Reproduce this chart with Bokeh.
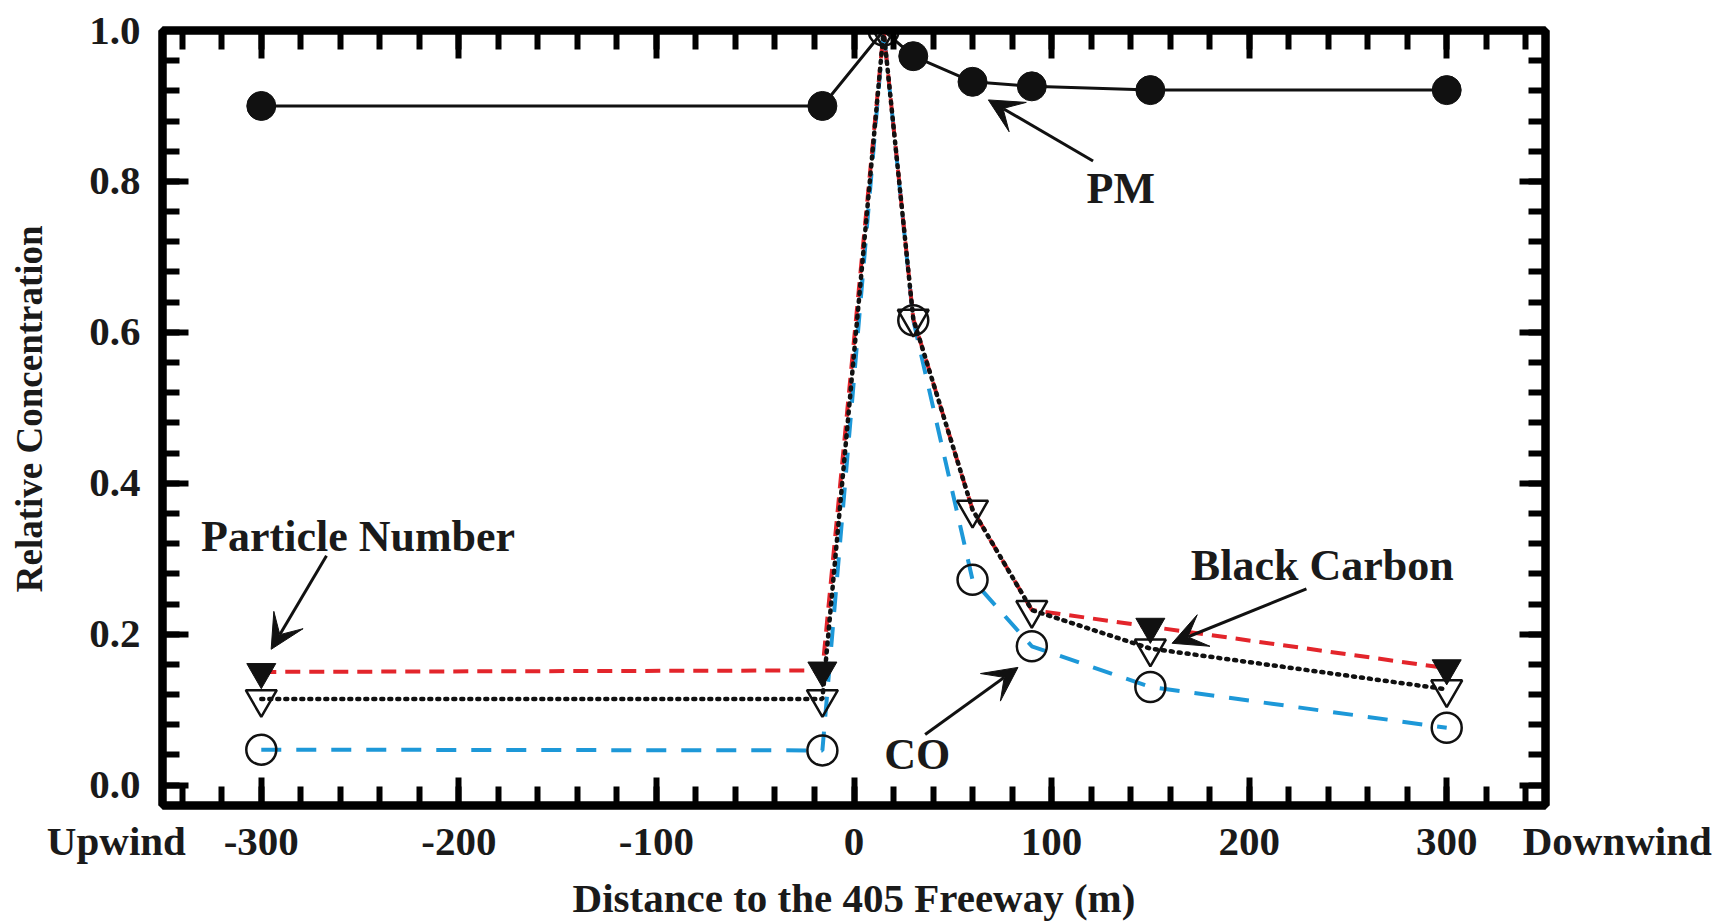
from bokeh.plotting import figure
from bokeh.models import (Range1d, LinearAxis, FixedTicker, Label, Arrow, VeeHead,
                          ColumnDataSource)
from bokeh.embed import file_html
from bokeh.resources import INLINE

# ---------------- data ----------------
distance = [-300, -16, 15, 30, 60, 90, 150, 300]
pm = [0.900, 0.900, 1.000, 0.966, 0.932, 0.926, 0.921, 0.921]
particle_number = [0.150, 0.152, 1.000, 0.618, 0.365, 0.232, 0.210, 0.155]
black_carbon = [0.114, 0.114, 1.000, 0.618, 0.365, 0.232, 0.181, 0.127]
co = [0.047, 0.046, 1.000, 0.616, 0.272, 0.184, 0.130, 0.076]
pm_marker_index = [0, 1, 3, 4, 5, 6, 7]
pn_marker_index = [0, 1, 6, 7]

x_ticks = [-300, -200, -100, 0, 100, 200, 300]
y_ticks = [0.0, 0.2, 0.4, 0.6, 0.8, 1.0]
x_tick_labels = ["-300", "-200", "-100", "0", "100", "200", "300"]
y_tick_labels = ["0.0", "0.2", "0.4", "0.6", "0.8", "1.0"]
x_min, x_max = -350, 350
end_labels = ["Upwind", "Downwind"]

FONT = "Liberation Serif"
RED = "#e3252b"
BLUE = "#1d98d8"
INK = "#111111"
TXT = "#1a1a1a"
NB = "\u00a0"

p = figure(frame_width=1383, frame_height=775,
           min_border_left=162, min_border_right=170,
           min_border_top=30, min_border_bottom=109,
           x_range=Range1d(x_min, x_max), y_range=Range1d(-0.027, 1.0),
           output_backend="svg", toolbar_location=None,
           x_axis_location=None, y_axis_location=None)
p.grid.visible = False
p.outline_line_color = "black"
p.outline_line_width = 8
p.background_fill_color = "white"
p.border_fill_color = "white"

x_minor = [v for v in range(-340, 341, 20)]
y_minor = [round(i * 0.04, 2) for i in range(0, 26)]

def style_axis(ax, ticks, minor, labels, major_len, minor_len, show_labels):
    ax.ticker = FixedTicker(ticks=ticks, minor_ticks=minor)
    ax.axis_line_width = 8
    ax.axis_line_color = "black"
    ax.major_tick_in = major_len
    ax.major_tick_out = 0
    ax.minor_tick_in = minor_len
    ax.minor_tick_out = 0
    ax.major_tick_line_width = 6
    ax.minor_tick_line_width = 6
    ax.major_tick_line_color = "black"
    ax.minor_tick_line_color = "black"
    ax.major_tick_line_cap = "butt"
    ax.minor_tick_line_cap = "butt"
    if show_labels:
        ax.major_label_overrides = {t: s for t, s in zip(ticks, labels)}
        ax.major_label_text_font = FONT
        ax.major_label_text_font_style = "bold"
        ax.major_label_text_font_size = "41px"
        ax.major_label_text_color = TXT
    else:
        ax.major_label_text_font_size = "1px"
        ax.major_label_text_alpha = 0
        ax.major_label_standoff = 0

# bottom axis: the "Upwind"/"Downwind" words sit at the two ends of the axis
bottom_ticks = [x_min] + x_ticks + [x_max]
bottom_labels = [end_labels[0] + NB * 9] + x_tick_labels + [NB * 14 + end_labels[1]]
xb = LinearAxis()
style_axis(xb, bottom_ticks, x_minor, bottom_labels, 28, 19, True)
xb.major_label_standoff = 12
xb.axis_label = "Distance to the 405 Freeway (m)"
xb.axis_label_text_font = FONT
xb.axis_label_text_font_style = "bold"
xb.axis_label_text_font_size = "41px"
xb.axis_label_text_color = TXT
xb.axis_label_standoff = 8

xt = LinearAxis(); style_axis(xt, x_ticks, x_minor, x_tick_labels, 28, 19, False)

yl = LinearAxis(); style_axis(yl, y_ticks, y_minor, y_tick_labels, 26, 17, True)
yl.major_label_standoff = 22
yl.axis_label = NB * 2 + "Relative Concentration"
yl.axis_label_text_font = FONT
yl.axis_label_text_font_style = "bold"
yl.axis_label_text_font_size = "37px"
yl.axis_label_text_color = TXT
yl.axis_label_standoff = 36

yr = LinearAxis(); style_axis(yr, y_ticks, y_minor, y_tick_labels, 26, 17, False)
p.add_layout(xb, "below")
p.add_layout(xt, "above")
p.add_layout(yl, "left")
p.add_layout(yr, "right")

src = ColumnDataSource(dict(x=distance, pm=pm, pn=particle_number, bc=black_carbon, co=co))
pn_src = ColumnDataSource(dict(x=[distance[i] for i in pn_marker_index],
                               y=[particle_number[i] for i in pn_marker_index]))
pm_src = ColumnDataSource(dict(x=[distance[i] for i in pm_marker_index],
                               y=[pm[i] for i in pm_marker_index]))

# CO (blue dashed, open circles)
p.line("x", "co", source=src, line_color=BLUE, line_width=4, line_dash="20 15")
# Particle number (red dashed)
p.line("x", "pn", source=src, line_color=RED, line_width=4, line_dash="15 9")
# Black carbon (black dotted)
p.line("x", "bc", source=src, line_color=INK, line_width=4.5, line_dash="2 6",
       line_cap="round")
p.scatter("x", "co", source=src, marker="circle", size=30, fill_color=None,
          line_color=INK, line_width=2.5)
p.scatter("x", "bc", source=src, marker="inverted_triangle", size=31, fill_color=None,
          line_color=INK, line_width=2.5)
p.scatter("x", "y", source=pn_src, marker="inverted_triangle", size=29,
          fill_color=INK, line_color=INK, line_width=1)
# PM (solid black, filled circles)
p.line("x", "pm", source=src, line_color=INK, line_width=3)
p.scatter("x", "y", source=pm_src, marker="circle", size=29, fill_color=INK,
          line_color=INK)

def note(text, x, y, size="44px"):
    p.add_layout(Label(x=x, y=y, text=text, text_font=FONT, text_font_style="bold",
                       text_font_size=size, text_align="center", text_baseline="middle",
                       text_color=TXT))

def arrow(x0, y0, x1, y1):
    p.add_layout(Arrow(end=VeeHead(size=34, fill_color=INK, line_color=INK,
                                   line_width=1),
                       x_start=x0, y_start=y0, x_end=x1, y_end=y1,
                       line_color=INK, line_width=3))

note("PM", 135, 0.79)
arrow(121, 0.827, 68, 0.908)
note("Particle Number", -251, 0.33)
arrow(-267, 0.304, -295, 0.18)
note("Black Carbon", 237, 0.291)
arrow(229, 0.26, 161, 0.188)
note("CO", 32, 0.041)
arrow(36, 0.067, 83, 0.156)

open("out.html", "w").write(file_html(p, INLINE))
